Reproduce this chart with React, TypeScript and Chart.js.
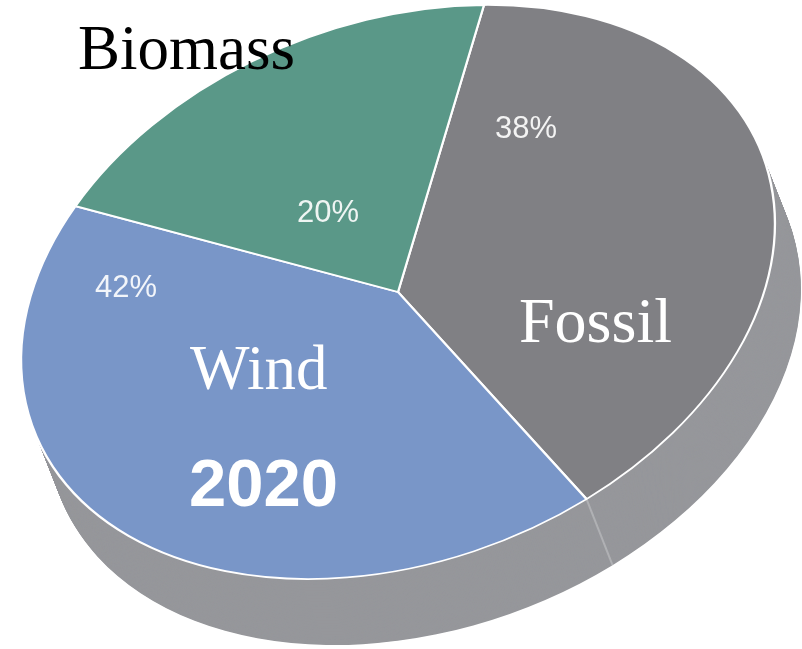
import React, { useEffect, useRef } from 'react';
import { Chart, registerables } from 'chart.js';

Chart.register(...registerables);

// ---- data ----
const categories = ['Fossil', 'Wind', 'Biomass'];
const shares = [38, 42, 20];
const sliceColors = ['#808084', '#7996c8', '#5a9888'];
const percentLabels = shares.map((v) => `${v}%`);
const yearLabel = '2020';

// ---- tilted-disc projection (px per unit radius) ----
const CENTER = { x: 398, y: 292 };
const AXIS_X = { x: 367, y: -3 };
const AXIS_Y = { x: -86, y: 287 };
const DEPTH = { x: 26, y: 66 };
const SIDE_COLOR = '#96979b';

function project(ctx: CanvasRenderingContext2D, cx: number, cy: number, R: number, shift: number) {
  ctx.translate(CENTER.x + DEPTH.x * shift, CENTER.y + DEPTH.y * shift);
  ctx.transform(AXIS_X.x / R, AXIS_X.y / R, AXIS_Y.x / R, AXIS_Y.y / R, 0, 0);
  ctx.translate(-cx, -cy);
}

const projectionPlugin = {
  id: 'projection3d',
  beforeDatasetsDraw(chart: any) {
    const ctx: CanvasRenderingContext2D = chart.ctx;
    const arcs: any[] = chart.getDatasetMeta(0).data;
    if (!arcs.length) return;
    const a0 = arcs[0];
    const R = a0.outerRadius;
    // extruded side
    const N = 90;
    ctx.save();
    ctx.fillStyle = SIDE_COLOR;
    for (let i = N; i >= 1; i--) {
      ctx.save();
      project(ctx, a0.x, a0.y, R, i / N);
      ctx.beginPath();
      arcs.forEach((el) => {
        ctx.moveTo(el.x, el.y);
        ctx.arc(el.x, el.y, el.outerRadius, el.startAngle, el.endAngle);
        ctx.closePath();
      });
      ctx.fill();
      ctx.restore();
    }
    // seam on the side where slices meet (front boundary)
    const ang = arcs[0].endAngle;
    const px = CENTER.x + AXIS_X.x * Math.cos(ang) + AXIS_Y.x * Math.sin(ang);
    const py = CENTER.y + AXIS_X.y * Math.cos(ang) + AXIS_Y.y * Math.sin(ang);
    ctx.strokeStyle = 'rgba(255,255,255,0.25)';
    ctx.lineWidth = 2;
    ctx.beginPath();
    ctx.moveTo(px, py);
    ctx.lineTo(px + DEPTH.x, py + DEPTH.y);
    ctx.stroke();
    ctx.restore();
    // top face
    ctx.save();
    project(ctx, a0.x, a0.y, R, 0);
  },
  afterDatasetsDraw(chart: any) {
    chart.ctx.restore();
  },
  afterDraw(chart: any) {
    const ctx: CanvasRenderingContext2D = chart.ctx;
    ctx.save();
    ctx.textAlign = 'left';
    ctx.textBaseline = 'alphabetic';
    // category names
    ctx.font = '63px "Liberation Serif", "Times New Roman", serif';
    ctx.fillStyle = '#000000';
    ctx.fillText(categories[2], 78, 69);
    ctx.fillStyle = '#ffffff';
    ctx.font = '64px "Liberation Serif", "Times New Roman", serif';
    ctx.fillText(categories[0], 519, 342);
    ctx.font = '63px "Liberation Serif", "Times New Roman", serif';
    ctx.fillText(categories[1], 190, 389);
    // year
    ctx.font = 'bold 67px "Liberation Sans", Arial, sans-serif';
    ctx.fillText(yearLabel, 189, 506);
    // percentages
    ctx.font = '31px "Liberation Sans", Arial, sans-serif';
    ctx.fillStyle = 'rgba(255,255,255,0.9)';
    ctx.fillText(percentLabels[0], 495, 138);
    ctx.fillText(percentLabels[1], 95, 297);
    ctx.fillText(percentLabels[2], 297, 222);
    ctx.restore();
  },
};

export default function App() {
  const ref = useRef<HTMLCanvasElement | null>(null);
  useEffect(() => {
    if (!ref.current) return;
    const chart = new Chart(ref.current, {
      type: 'pie',
      data: {
        labels: categories,
        datasets: [
          {
            data: shares,
            backgroundColor: sliceColors,
            borderColor: '#ffffff',
            borderWidth: 2,
            clip: false,
          } as any,
        ],
      },
      options: {
        responsive: false,
        animation: false,
        devicePixelRatio: 1,
        events: [],
        rotation: 0,
        layout: { padding: 0 },
        plugins: {
          legend: { display: false },
          tooltip: { enabled: false },
          title: { display: false },
        },
      },
      plugins: [projectionPlugin],
    });
    return () => chart.destroy();
  }, []);
  return (
    <div style={{ position: 'fixed', left: 0, top: 0, width: 802, height: 649, background: '#ffffff' }}>
      <canvas ref={ref} width={802} height={649} style={{ display: 'block', width: 802, height: 649 }} />
    </div>
  );
}
